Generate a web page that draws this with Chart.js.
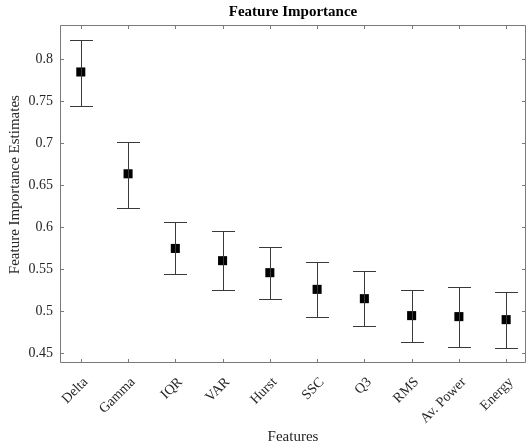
<!DOCTYPE html>
<html>
<head>
<meta charset="utf-8">
<script src="https://cdn.jsdelivr.net/npm/chart.js@4"></script>
<style>
  html, body { margin: 0; padding: 0; background: #fff; }
  #wrap { width: 526px; height: 446px; overflow: hidden; }
</style>
</head>
<body>
<div id="wrap"><canvas id="chart" width="526" height="446"></canvas></div>
<script>
const features = ["Delta", "Gamma", "IQR", "VAR", "Hurst", "SSC", "Q3", "RMS", "Av. Power", "Energy"];
const estimates = [0.785, 0.6636, 0.5746, 0.56, 0.5457, 0.5258, 0.5147, 0.4945, 0.4933, 0.4897];
const upperBounds = [0.8226, 0.701, 0.606, 0.5957, 0.5767, 0.5583, 0.548, 0.525, 0.5286, 0.5226];
const lowerBounds = [0.745, 0.6234, 0.5437, 0.525, 0.5147, 0.4933, 0.4818, 0.4627, 0.4568, 0.456];
const yTicks = [0.45, 0.5, 0.55, 0.6, 0.65, 0.7, 0.75, 0.8];

const serif = "'Liberation Serif', 'Times New Roman', serif";
const axisColor = "#7a7a7a";
const textColor = "#262626";
const noPadding = () => ({ left: 0, top: 0, right: 0, bottom: 0 });

// error bars (stem + caps)
const errorBars = {
  id: "errorBars",
  afterDatasetsDraw(chart) {
    const { ctx, scales: { x, y } } = chart;
    ctx.save();
    ctx.strokeStyle = "#3a3a3a";
    ctx.lineWidth = 1;
    features.forEach((f, i) => {
      const px = Math.round(x.getPixelForValue(i + 1)) + 0.5;
      const yHi = Math.round(y.getPixelForValue(upperBounds[i])) + 0.5;
      const yLo = Math.round(y.getPixelForValue(lowerBounds[i])) + 0.5;
      const cap = 11.5;
      ctx.beginPath();
      ctx.moveTo(px, yHi); ctx.lineTo(px, yLo);
      ctx.moveTo(px - cap, yHi); ctx.lineTo(px + cap, yHi);
      ctx.moveTo(px - cap, yLo); ctx.lineTo(px + cap, yLo);
      ctx.stroke();
    });
    ctx.restore();
  },
};

// box frame with inward ticks, matlab style
const axesBox = {
  id: "axesBox",
  afterDraw(chart) {
    const { ctx, chartArea: a, scales: { x, y } } = chart;
    const tl = 4;
    ctx.save();
    ctx.strokeStyle = axisColor;
    ctx.lineWidth = 1;
    ctx.beginPath();
    ctx.rect(a.left + 0.5, a.top + 0.5, a.right - a.left - 1, a.bottom - a.top - 1);
    x.ticks.forEach((t) => {
      const px = Math.round(x.getPixelForValue(t.value)) + 0.5;
      ctx.moveTo(px, a.bottom); ctx.lineTo(px, a.bottom - tl);
      ctx.moveTo(px, a.top); ctx.lineTo(px, a.top + tl);
    });
    y.ticks.forEach((t) => {
      const py = Math.round(y.getPixelForValue(t.value)) + 0.5;
      ctx.moveTo(a.left, py); ctx.lineTo(a.left + tl, py);
      ctx.moveTo(a.right, py); ctx.lineTo(a.right - tl, py);
    });
    ctx.stroke();
    ctx.restore();
  },
};

const ctx = document.getElementById("chart").getContext("2d");
new Chart(ctx, {
  type: "scatter",
  data: {
    datasets: [
      {
        data: estimates.map((v, i) => ({ x: i + 1, y: v })),
        pointStyle: "rect",
        pointRadius: 6.4,
        pointBorderWidth: 0,
        backgroundColor: "#000",
        borderColor: "#000",
      },
    ],
  },
  options: {
    responsive: false,
    animation: false,
    layout: { autoPadding: false, padding: { left: 0, right: -1, top: 0, bottom: 0 } },
    plugins: {
      legend: { display: false },
      tooltip: { enabled: false },
      title: {
        display: true,
        fullSize: false,
        text: "Feature Importance",
        color: "#000",
        font: { family: serif, size: 15, weight: "bold" },
        padding: { top: 3.5, bottom: 3.5 },
      },
    },
    scales: {
      x: {
        type: "linear",
        min: 0.56,
        max: 10.42,
        grid: { display: false, drawTicks: false },
        border: { display: false },
        afterBuildTicks: (s) => {
          s.ticks = features.map((f, i) => ({ value: i + 1 }));
        },
        afterFit: (s) => {
          s.height = 83;
          s.paddingLeft = 0;
          s.paddingRight = 0;
          s.getPadding = noPadding;
        },
        ticks: {
          autoSkip: false,
          minRotation: 45,
          maxRotation: 45,
          padding: 11,
          labelOffset: 5,
          color: textColor,
          font: { family: serif, size: 14 },
          callback: (v) => features[v - 1],
        },
        title: {
          display: true,
          text: "Features",
          color: textColor,
          font: { family: serif, size: 15 },
          padding: { top: 0, bottom: 0 },
        },
      },
      y: {
        min: 0.438,
        max: 0.841,
        grid: { display: false, drawTicks: false },
        border: { display: false },
        afterBuildTicks: (s) => {
          s.ticks = yTicks.map((v) => ({ value: v }));
        },
        afterFit: (s) => {
          s.width = 60;
        },
        ticks: {
          padding: 7,
          color: textColor,
          font: { family: serif, size: 14 },
          callback: (v) => String(Number(v.toFixed(2))),
        },
        title: {
          display: true,
          text: "     Feature Importance Estimates",
          color: textColor,
          font: { family: serif, size: 15 },
          padding: { top: 6, bottom: 0 },
        },
      },
    },
  },
  plugins: [errorBars, axesBox],
});
</script>
</body>
</html>
